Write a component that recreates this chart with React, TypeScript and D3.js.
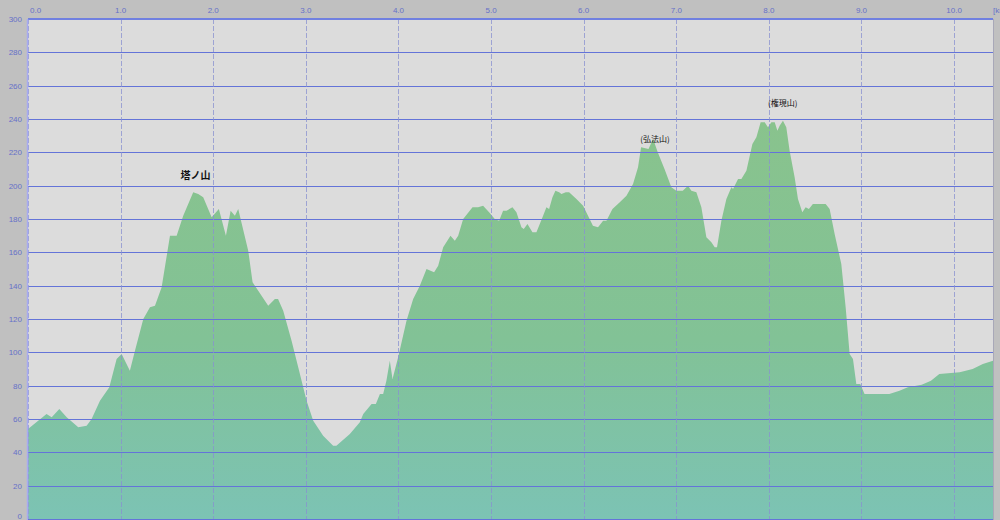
import React from "react";
import * as d3 from "d3";

// elevation profile, distance in km / elevation in m
const distKm = [
  0.0, 0.2, 0.256, 0.338, 0.418, 0.543, 0.633, 0.687, 0.777, 0.878, 0.957, 1.011, 1.1, 1.155, 1.245, 1.317,
  1.371, 1.443, 1.533, 1.605, 1.676, 1.784, 1.838, 1.892, 1.983, 2.061, 2.137, 2.188, 2.234, 2.27, 2.378, 2.425,
  2.486, 2.594, 2.666, 2.7, 2.756, 2.846, 2.918, 3.008, 3.08, 3.187, 3.295, 3.33, 3.475, 3.583, 3.62, 3.71,
  3.756, 3.8, 3.835, 3.87, 3.907, 3.936, 3.997, 4.087, 4.159, 4.231, 4.303, 4.385, 4.429, 4.483, 4.562, 4.609,
  4.645, 4.699, 4.8, 4.86, 4.914, 4.979, 5.04, 5.087, 5.13, 5.167, 5.231, 5.274, 5.328, 5.353, 5.393, 5.447,
  5.49, 5.562, 5.598, 5.627, 5.663, 5.695, 5.735, 5.76, 5.807, 5.843, 5.922, 5.994, 6.047, 6.1, 6.155, 6.21,
  6.246, 6.311, 6.39, 6.462, 6.533, 6.587, 6.62, 6.7, 6.75, 6.8, 6.873, 6.947, 7.0, 7.07, 7.127, 7.163,
  7.217, 7.271, 7.325, 7.379, 7.415, 7.44, 7.487, 7.541, 7.595, 7.613, 7.667, 7.703, 7.757, 7.822, 7.865, 7.911,
  7.955, 7.99, 8.027, 8.063, 8.092, 8.116, 8.152, 8.188, 8.224, 8.278, 8.314, 8.361, 8.397, 8.432, 8.475, 8.613,
  8.656, 8.71, 8.782, 8.829, 8.872, 8.908, 8.944, 8.987, 9.033, 9.3, 9.41, 9.5, 9.65, 9.75, 9.84, 10.06,
  10.2, 10.31, 10.42,
];
const elevM = [
  54, 63, 61, 66, 61, 55, 56, 60, 71, 79, 96, 99, 89, 101, 120, 127,
  128, 139, 170, 170, 182, 196, 195, 193, 181, 186, 170, 185, 182, 186, 161, 142,
  137, 128, 132, 132, 125, 107, 91, 71, 59, 50, 44, 44, 51, 58, 63, 69,
  69, 75, 75, 83, 95, 84, 97, 119, 132, 140, 150, 148, 152, 163, 170, 167,
  170, 180, 187, 187, 188, 184, 180, 179, 185, 185, 187, 184, 175, 174, 177, 172,
  172, 182, 187, 186, 193, 197, 196, 195, 196, 196, 192, 188, 182, 176, 175, 179,
  179, 186, 190, 194, 201, 211, 223, 222, 228, 220, 210, 199, 197, 197, 200, 197,
  196, 187, 169, 166, 163, 163, 179, 192, 199, 198, 204, 204, 209, 225, 229, 238,
  238, 235, 238, 238, 233, 236, 239, 235, 221, 205, 192, 184, 187, 186, 189, 189,
  186, 171, 153, 127, 99, 96, 81, 81, 75, 75, 77, 79, 80.5, 83, 87, 88,
  90, 93, 95,
];

const xTicks = [0, 1, 2, 3, 4, 5, 6, 7, 8, 9, 10];
const yTicks = d3.range(0, 301, 20);

const peakNames = ["塔ノ山", "(弘法山)", "(権現山)"];
const peakKm = [1.81, 6.77, 8.15];
const peakLabelM = [204, 226, 248];
const peakBold = [true, false, false];

const W = 1000;
const H = 520;
const plot = { left: 28, right: 993, top: 19, bottom: 519 };

const App: React.FC = () => {
  const x = d3.scaleLinear().domain([0, 10.42]).range([plot.left, plot.right]);
  const y = d3.scaleLinear().domain([0, 300]).range([plot.bottom, plot.top]);

  const points = distKm.map((d, i) => [d, elevM[i]] as [number, number]);
  const area = d3
    .area<[number, number]>()
    .x((d) => x(d[0]))
    .y0(y(0))
    .y1((d) => y(d[1]));

  const axisColor = "#6670c8";

  return (
    <div style={{ position: "fixed", left: 0, top: 0 }}>
      <svg width={W} height={H} style={{ display: "block" }}>
        <defs>
          <linearGradient id="fillGrad" gradientUnits="userSpaceOnUse" x1={0} y1={y(240)} x2={0} y2={y(0)}>
            <stop offset="0%" stopColor="#89c38d" />
            <stop offset="55%" stopColor="#82c296" />
            <stop offset="100%" stopColor="#7cc3b4" />
          </linearGradient>
        </defs>
        <rect x={0} y={0} width={W} height={H} fill="#c0c0c0" />
        <rect x={plot.left} y={plot.top} width={plot.right - plot.left} height={plot.bottom - plot.top} fill="#dcdcdc" />

        <path d={area(points) || ""} fill="url(#fillGrad)" />

        {/* horizontal grid */}
        {yTicks.map((t) => (
          <line
            key={"h" + t}
            x1={plot.left}
            x2={plot.right}
            y1={Math.round(y(t)) + 0.5}
            y2={Math.round(y(t)) + 0.5}
            stroke="#6474d8"
            strokeWidth={1}
          />
        ))}

        {/* vertical grid */}
        {xTicks.map((t) => (
          <line
            key={"v" + t}
            x1={Math.round(x(t)) + 0.5}
            x2={Math.round(x(t)) + 0.5}
            y1={plot.top}
            y2={plot.bottom}
            stroke="#8890d0"
            strokeOpacity={0.75}
            strokeWidth={1}
            strokeDasharray="5 2"
          />
        ))}

        {/* frame */}
        <line x1={plot.left} x2={plot.right} y1={plot.top} y2={plot.top} stroke="#7080e0" strokeWidth={2} />
        <line x1={plot.left - 0.5} x2={plot.left - 0.5} y1={plot.top} y2={plot.bottom + 1} stroke="#a8aaf0" strokeWidth={1.5} />
        <line x1={plot.left} x2={plot.right} y1={plot.bottom + 0.5} y2={plot.bottom + 0.5} stroke="#6474d8" strokeWidth={1} />
        <line x1={plot.right + 0.5} x2={plot.right + 0.5} y1={plot.top} y2={H} stroke="#a8a8b8" strokeWidth={1} />

        {/* axis labels */}
        <g fontFamily="'Liberation Sans', sans-serif" fontSize={8} fill={axisColor}>
          {yTicks.map((t) => (
            <text key={"yl" + t} x={22} y={t === 0 ? y(t) : y(t) + 3} textAnchor="end">
              {t}
            </text>
          ))}
          {xTicks.map((t) => (
            <text
              key={"xl" + t}
              x={t === 0 ? x(t) + 2 : x(t)}
              y={13}
              textAnchor={t === 0 ? "start" : "middle"}
            >
              {t.toFixed(1)}
            </text>
          ))}
          <text x={993} y={13}>
            [km]
          </text>
        </g>

        {/* peak names */}
        <g fontFamily="'Noto Sans CJK JP', sans-serif" fill="#111">
          {peakNames.map((n, i) => (
            <text
              key={n}
              x={x(peakKm[i])}
              y={y(peakLabelM[i])}
              textAnchor="middle"
              fontSize={peakBold[i] ? 10 : 8}
              fontWeight={peakBold[i] ? "bold" : "normal"}
            >
              {n}
            </text>
          ))}
        </g>
      </svg>
    </div>
  );
};

export default App;
